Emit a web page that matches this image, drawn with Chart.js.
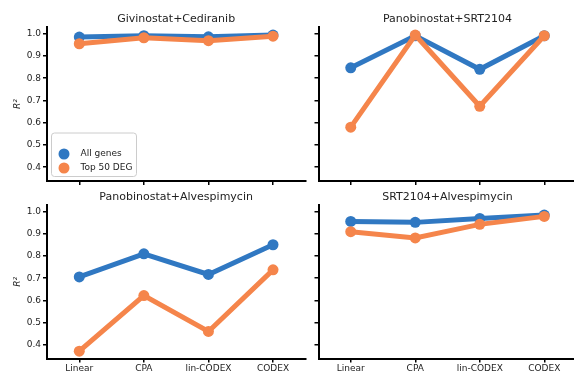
<!DOCTYPE html>
<html>
<head>
<meta charset="utf-8">
<script src="https://cdn.jsdelivr.net/npm/chart.js@4.4.0/dist/chart.umd.min.js"></script>
<style>
  html, body { margin: 0; padding: 0; background: #fff; }
  #fig { position: relative; width: 574px; height: 373px; overflow: hidden; }
  #fig canvas { position: absolute; }
</style>
</head>
<body>
<div id="fig">
  <canvas id="panel0"></canvas>
  <canvas id="panel1"></canvas>
  <canvas id="panel2"></canvas>
  <canvas id="panel3"></canvas>
</div>
<script>
// data
const methods = ['Linear', 'CPA', 'lin-CODEX', 'CODEX'];
const yTicks = [0.4, 0.5, 0.6, 0.7, 0.8, 0.9, 1.0];
const seriesNames = ['All genes', 'Top 50 DEG'];
const panelTitles = ['Givinostat+Cediranib', 'Panobinostat+SRT2104', 'Panobinostat+Alvespimycin', 'SRT2104+Alvespimycin'];

const givCedAll = [0.985, 0.991, 0.986, 0.994];
const givCedTop = [0.955, 0.982, 0.969, 0.989];
const panSrtAll = [0.847, 0.991, 0.840, 0.991];
const panSrtTop = [0.580, 0.994, 0.674, 0.991];
const panAlvAll = [0.706, 0.810, 0.717, 0.851];
const panAlvTop = [0.371, 0.622, 0.460, 0.738];
const srtAlvAll = [0.956, 0.952, 0.970, 0.985];
const srtAlvTop = [0.910, 0.882, 0.943, 0.979];

const blue = '#3078c2';
const orange = '#f5854b';
const font = 'DejaVu Sans';

// canvas box + where the plot area must land (page pixels)
const panels = [
  { id: 'panel0', all: givCedAll, top: givCedTop, box: [0, 0, 310, 194], area: [47, 27.3, 305.3, 181], yLabels: true, xLabels: false, legend: true },
  { id: 'panel1', all: panSrtAll, top: panSrtTop, box: [300, 0, 280, 194], area: [318.5, 27.3, 576.5, 181], yLabels: false, xLabels: false },
  { id: 'panel2', all: panAlvAll, top: panAlvTop, box: [0, 185, 310, 188], area: [47, 205.3, 305.3, 358.5], yLabels: true, xLabels: true },
  { id: 'panel3', all: srtAlvAll, top: srtAlvTop, box: [300, 185, 280, 188], area: [318.5, 205.3, 576.5, 358.5], yLabels: false, xLabels: true }
];

const legendBox = {
  id: 'legendBox',
  afterDraw(chart, args, opts) {
    if (!opts.show) return;
    const ctx = chart.ctx;
    const x = chart.chartArea.left + 4.5;
    const h = 43.5;
    const y = chart.chartArea.bottom - 4.5 - h;
    ctx.save();
    ctx.beginPath();
    ctx.roundRect(x, y, 85, h, 3);
    ctx.fillStyle = 'rgba(255,255,255,0.8)';
    ctx.fill();
    ctx.strokeStyle = '#cccccc';
    ctx.lineWidth = 1;
    ctx.stroke();
    ctx.font = '9px "' + font + '"';
    ctx.textBaseline = 'middle';
    [blue, orange].forEach((c, i) => {
      const cy = y + 21 + i * 14;
      ctx.beginPath();
      ctx.arc(x + 12.5, cy, 5.5, 0, Math.PI * 2);
      ctx.fillStyle = c;
      ctx.fill();
      ctx.fillStyle = '#222';
      ctx.fillText(seriesNames[i], x + 29, cy);
    });
    ctx.restore();
  }
};

function makeDataset(label, values, color, order) {
  return {
    label: label,
    data: values,
    borderColor: color,
    backgroundColor: color,
    borderWidth: 5,
    pointRadius: 5.5,
    pointBorderWidth: 0,
    pointHoverRadius: 5.5,
    tension: 0,
    order: order,
    clip: false
  };
}

panels.forEach((p, idx) => {
  const canvas = document.getElementById(p.id);
  const [bx, by, bw, bh] = p.box;
  const [al, at, ar, ab] = p.area;
  canvas.style.left = bx + 'px';
  canvas.style.top = by + 'px';
  canvas.style.width = bw + 'px';
  canvas.style.height = bh + 'px';
  canvas.width = bw;
  canvas.height = bh;

  const titleTop = by === 0 ? 12.5 : 5.5;
  const titleBottom = (at - by) - titleTop - 13.2;

  new Chart(canvas, {
    type: 'line',
    data: {
      labels: methods,
      datasets: [
        makeDataset(seriesNames[0], p.all, blue, 1),
        makeDataset(seriesNames[1], p.top, orange, 0)
      ]
    },
    plugins: [legendBox],
    options: {
      responsive: false,
      animation: false,
      events: [],
      layout: { autoPadding: false, padding: { left: 0, right: (bx + bw) - ar, top: 0, bottom: 0 } },
      plugins: {
        legend: { display: false },
        tooltip: { enabled: false },
        title: {
          display: true,
          text: panelTitles[idx],
          fullSize: false,
          color: '#222',
          font: { family: font, size: 11, weight: 'normal', lineHeight: 1.2 },
          padding: { top: titleTop, bottom: titleBottom }
        },
        legendBox: { show: !!p.legend }
      },
      scales: {
        x: {
          type: 'category',
          offset: true,
          afterFit: (s) => { s.height = (by + bh) - ab; },
          grid: { display: true, drawOnChartArea: false, drawTicks: true, tickLength: 4, color: '#000', lineWidth: 1.5 },
          border: { display: true, color: '#000', width: 2 },
          ticks: { display: p.xLabels, color: '#222', padding: 1, maxRotation: 0, font: { family: font, size: 9 } }
        },
        y: {
          min: 0.338,
          max: 1.029,
          afterBuildTicks: (s) => { s.ticks = yTicks.map((v) => ({ value: v })); },
          afterFit: (s) => { s.width = al - bx; },
          grid: { display: true, drawOnChartArea: false, drawTicks: true, tickLength: 4, color: '#000', lineWidth: 1.5 },
          border: { display: true, color: '#000', width: 2 },
          ticks: {
            display: p.yLabels,
            color: '#222',
            padding: 2,
            font: { family: font, size: 9 },
            callback: (v) => Number(v).toFixed(1)
          },
          title: {
            display: p.yLabels,
            text: 'R²',
            color: '#222',
            font: { family: font, size: 9, style: 'italic' },
            padding: { top: 12, bottom: 0 }
          }
        }
      }
    }
  });
});
</script>
</body>
</html>
